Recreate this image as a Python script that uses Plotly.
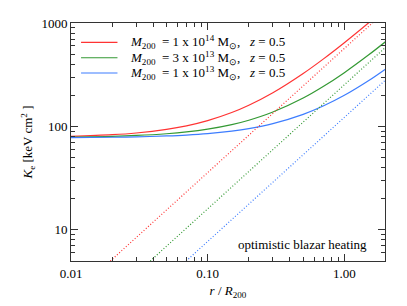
import plotly.graph_objects as go

# radius r/R200 sample points
r_solid = [0.01, 0.02, 0.03, 0.05, 0.07, 0.1, 0.15, 0.2, 0.3, 0.5, 0.7, 1.0, 1.5, 2.0]
k_red = [80.3, 83.2, 86.4, 93.6, 101.3, 113.8, 136.2, 160.2, 211.6, 325, 447.6, 645, 1000, 1381]
k_green = [79.0, 80.3, 81.8, 85.0, 88.4, 94.0, 104.0, 114.7, 137.7, 188, 242.9, 331, 489.7, 659]
k_blue = [78.0, 78.6, 79.3, 80.9, 82.5, 85.2, 90.1, 95.2, 106.4, 130.8, 157.3, 199.9, 276.5, 358.5]

# baseline (dotted) power laws
r_red_dot = [0.0194, 0.05, 0.1, 0.2, 0.5, 1.0, 1.6, 2.0]
k_red_dot = [5, 15.6, 35.8, 82.2, 247, 567, 997, 1303]
r_green_dot = [0.038, 0.1, 0.2, 0.5, 1.0, 2.0]
k_green_dot = [5, 16.0, 36.7, 110, 253, 581]
r_blue_dot = [0.0696, 0.1, 0.2, 0.5, 1.0, 2.0]
k_blue_dot = [5, 7.7, 17.7, 53.3, 122.4, 281]

labels = [
    "<i>M</i><sub>200</sub>  = 1 x 10<sup>14</sup> M<sub>⊙</sub>,   <i>z</i> = 0.5",
    "<i>M</i><sub>200</sub>  = 3 x 10<sup>13</sup> M<sub>⊙</sub>,   <i>z</i> = 0.5",
    "<i>M</i><sub>200</sub>  = 1 x 10<sup>13</sup> M<sub>⊙</sub>,   <i>z</i> = 0.5",
]
colors = ["#ff3333", "#339933", "#3d7dff"]

x_ticks = [0.01, 0.1, 1.0]
x_ticktext = ["0.01", "0.10", "1.00"]
y_ticks = [10, 100, 1000]
y_ticktext = ["10", "100", "1000"]

fig = go.Figure()
for k, c, lab in zip([k_red, k_green, k_blue], colors, labels):
    fig.add_trace(go.Scatter(x=r_solid, y=k, mode="lines", line=dict(color=c, width=1.2, shape="spline"),
                             name=lab, showlegend=False))
for r, k, c in zip([r_red_dot, r_green_dot, r_blue_dot], [k_red_dot, k_green_dot, k_blue_dot], colors):
    fig.add_trace(go.Scatter(x=r, y=k, mode="lines", line=dict(color=c, width=1.2, dash="1px,2px"),
                             showlegend=False))

x_minor = [m * 10 ** e for e in (-2, -1, 0) for m in range(2, 10) if m * 10 ** e <= 2.0]
y_minor = [m * 10 ** e for e in (0, 1, 2) for m in range(2, 10) if m * 10 ** e >= 5]

font = "Liberation Serif"

# legend drawn as paper-positioned samples and labels
leg_rows = [0.919, 0.854, 0.790]
shapes = []
annotations = []
for yy, c, lab in zip(leg_rows, colors, labels):
    shapes.append(dict(type="line", xref="paper", yref="paper", x0=0.032, x1=0.148, y0=yy, y1=yy,
                       line=dict(color=c, width=1.2)))
    annotations.append(dict(text=lab, xref="paper", yref="paper", x=0.183, y=yy, xanchor="left",
                            yanchor="middle", showarrow=False, font=dict(size=13, family=font)))
annotations.append(dict(text="optimistic blazar heating", xref="paper", yref="paper", x=0.95, y=0.071,
                        xanchor="right", yanchor="middle", showarrow=False, font=dict(size=13, family=font)))

axis_common = dict(type="log", ticks="inside", ticklen=7, tickcolor="#333", showline=True, linecolor="#333",
                   linewidth=1, mirror="ticks", showgrid=False, zeroline=False, automargin=False,
                   tickfont=dict(size=13, family=font))

fig.update_layout(
    width=399, height=298,
    margin=dict(l=63, r=22, t=15, b=45),
    paper_bgcolor="white", plot_bgcolor="white",
    font=dict(family=font, size=13, color="black"),
    showlegend=False,
    xaxis=dict(range=[-2, 0.2975], tickvals=x_ticks, ticktext=x_ticktext,
               minor=dict(tickmode="array", tickvals=x_minor, ticks="inside", ticklen=4, tickcolor="#333"),
               title=dict(text="<i>r</i> / <i>R</i><sub>200</sub>", font=dict(size=13, family=font), standoff=6),
               **axis_common),
    yaxis=dict(range=[0.699, 3], tickvals=y_ticks, ticktext=y_ticktext,
               minor=dict(tickmode="array", tickvals=y_minor, ticks="inside", ticklen=4, tickcolor="#333"),
               title=dict(text="<i>K</i><sub>e</sub> [keV cm<sup>2</sup> ]", font=dict(size=13, family=font), standoff=5),
               **axis_common),
    shapes=shapes,
    annotations=annotations,
)
fig.write_html("out.html")
